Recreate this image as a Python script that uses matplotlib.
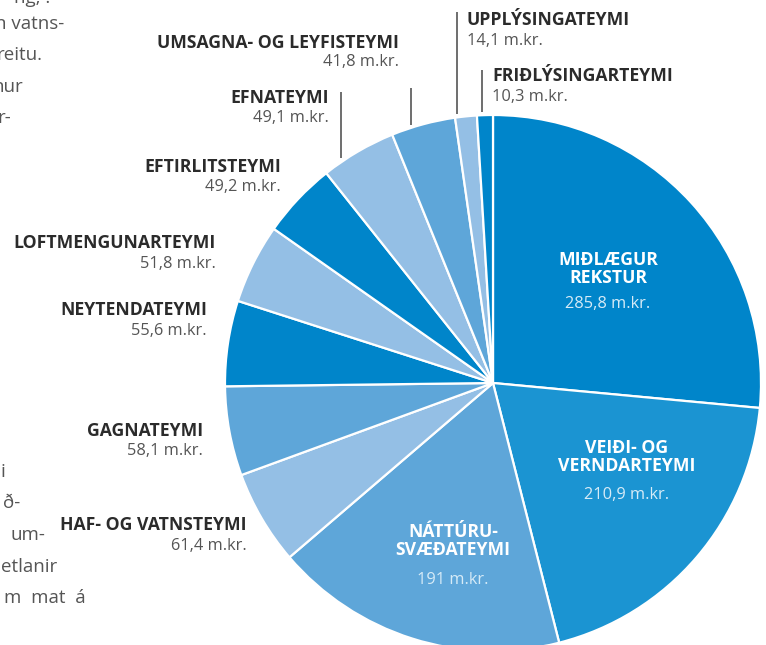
import matplotlib
matplotlib.use("Agg")
import matplotlib.pyplot as plt

# ---- data ----
teams = ["MIÐLÆGUR\nREKSTUR", "VEIÐI- OG\nVERNDARTEYMI", "NÁTTÚRU-\nSVÆÐATEYMI",
         "HAF- OG VATNSTEYMI", "GAGNATEYMI", "NEYTENDATEYMI", "LOFTMENGUNARTEYMI",
         "EFTIRLITSTEYMI", "EFNATEYMI", "UMSAGNA- OG LEYFISTEYMI",
         "UPPLÝSINGATEYMI", "FRIÐLÝSINGARTEYMI"]
values = [285.8, 210.9, 191, 61.4, 58.1, 55.6, 51.8, 49.2, 49.1, 41.8, 14.1, 10.3]
value_labels = ["285,8 m.kr.", "210,9 m.kr.", "191 m.kr.", "61,4 m.kr.", "58,1 m.kr.",
                "55,6 m.kr.", "51,8 m.kr.", "49,2 m.kr.", "49,1 m.kr.", "41,8 m.kr.",
                "14,1 m.kr.", "10,3 m.kr."]

DARK, VEIDI, MED, LIGHT = "#0085ca", "#1b94d2", "#5ea6d9", "#94bfe5"
colors = [DARK, VEIDI, MED, LIGHT, MED, DARK, LIGHT, DARK, LIGHT, MED, LIGHT, DARK]

W, H = 766, 645
fig = plt.figure(figsize=(W / 100, H / 100), dpi=100)
ax = fig.add_axes([0, 0, 1, 1])

def Y(py):
    return H - py

cx, cy, r = 493, 383, 268
ax.pie(values, colors=colors, startangle=90, counterclock=False,
       center=(cx, Y(cy)), radius=r, frame=True,
       wedgeprops=dict(edgecolor="white", linewidth=1.6))
ax.set_xlim(0, W)
ax.set_ylim(0, H)
ax.set_aspect("equal")
ax.axis("off")

FONT = "Open Sans"
NAME_C = "#2b2b2b"
VAL_C = "#555555"
FSN = 12.7
FSV = 11.8

# outside labels: (index, x, ha, y_name, y_value)
outside = [
    (9, 399, "right", 43, 62),
    (10, 467, "left", 20, 41),
    (11, 492, "left", 76, 97),
    (8, 329, "right", 98, 118),
    (7, 281, "right", 167, 187),
    (6, 216, "right", 243, 264),
    (5, 207, "right", 310, 331),
    (4, 203, "right", 431, 451),
    (3, 247, "right", 525, 546),
]
for i, x, ha, yn, yv in outside:
    ax.text(x, Y(yn), teams[i], ha=ha, va="center", fontsize=FSN,
            fontweight="bold", color=NAME_C, family=FONT)
    ax.text(x, Y(yv), value_labels[i], ha=ha, va="center", fontsize=FSV,
            color=VAL_C, family=FONT)

# leader lines (x, y_top, y_bottom)
leaders = [(411, 88, 125), (457, 12, 114), (482, 70, 112), (341, 92, 158)]
for x, y0, y1 in leaders:
    ax.plot([x, x], [Y(y0), Y(y1)], color="#555555", linewidth=1.2,
            solid_capstyle="butt")

# inside labels: (index, x, y_name_center, y_value)
inside = [(0, 608, 269, 304), (1, 627, 457, 495), (2, 453, 541, 580)]
for i, x, yn, yv in inside:
    ax.text(x, Y(yn), teams[i], ha="center", va="center", fontsize=FSN,
            fontweight="bold", color="white", family=FONT, linespacing=1.03)
    ax.text(x, Y(yv), value_labels[i], ha="center", va="center", fontsize=FSV,
            color="#d6ebf7", family=FONT)

# cut-off body text at left edge
body = [("ng, .", 50, -2), ("n vatns-", 64, 24), ("reitu.", 42, 55), ("nur", 23, 87),
        ("r-", 11, 118), ("i", 5, 472), ("ð-", 20, 503), ("um-", 45, 535),
        ("etlanir", 57, 567), ("m  mat  á", 86, 598)]
for txt, x, y in body:
    ax.text(x, Y(y), txt, ha="right", va="center", fontsize=13.5,
            color="#555555", family=FONT)

fig.savefig("out.png", dpi=100)
